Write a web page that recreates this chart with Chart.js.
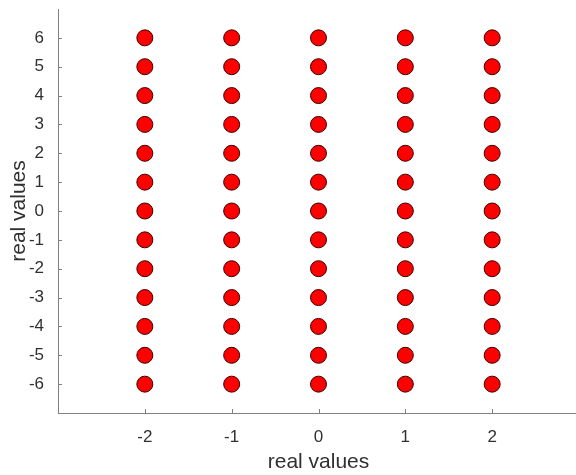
<!DOCTYPE html>
<html>
<head>
<meta charset="utf-8">
<script src="https://cdn.jsdelivr.net/npm/chart.js@4/dist/chart.umd.min.js"></script>
<style>
  html, body { margin: 0; padding: 0; background: #fff; overflow: hidden; }
  canvas { display: block; }
</style>
</head>
<body>
<canvas id="c" width="588" height="475" style="width:588px;height:475px"></canvas>
<script>
// Grid of sample positions
const xValues = [-2, -1, 0, 1, 2];
const yValues = [-6, -5, -4, -3, -2, -1, 0, 1, 2, 3, 4, 5, 6];
const xTicks = [-2, -1, 0, 1, 2];
const yTicks = [-6, -5, -4, -3, -2, -1, 0, 1, 2, 3, 4, 5, 6];
const xLimits = [-3, 3];
const yLimits = [-7, 7];
const xLabel = 'real values';
const yLabel = 'real values';

const points = [];
xValues.forEach(x => yValues.forEach(y => points.push({ x, y })));

const axisColor = '#808080';
const textColor = '#303030';
const fontFamily = 'Arial, "Liberation Sans", Helvetica, sans-serif';

// Short tick marks pointing into the plot area
const innerTicks = {
  id: 'innerTicks',
  afterDatasetsDraw(chart) {
    const { ctx, chartArea, scales } = chart;
    ctx.save();
    ctx.strokeStyle = axisColor;
    ctx.lineWidth = 1;
    ctx.beginPath();
    xTicks.forEach(v => {
      const px = Math.round(scales.x.getPixelForValue(v)) + 0.5;
      ctx.moveTo(px, chartArea.bottom);
      ctx.lineTo(px, chartArea.bottom - 4);
    });
    yTicks.forEach(v => {
      const py = Math.round(scales.y.getPixelForValue(v)) + 0.5;
      ctx.moveTo(chartArea.left, py);
      ctx.lineTo(chartArea.left + 4, py);
    });
    ctx.stroke();
    ctx.restore();
  }
};

new Chart(document.getElementById('c'), {
  type: 'scatter',
  data: {
    datasets: [{
      data: points,
      backgroundColor: '#ff0000',
      borderColor: '#3a0000',
      borderWidth: 1,
      pointRadius: 8,
      pointHoverRadius: 8
    }]
  },
  options: {
    responsive: false,
    animation: false,
    events: [],
    layout: { padding: { top: 8, right: 0, left: 0, bottom: 0 } },
    plugins: { legend: { display: false }, tooltip: { enabled: false } },
    scales: {
      x: {
        type: 'linear',
        min: xLimits[0],
        max: xLimits[1],
        afterBuildTicks: s => { s.ticks = xTicks.map(v => ({ value: v })); },
        afterFit: s => { s.height = 62; s.paddingLeft = 0; s.paddingRight = 0; },
        grid: { display: false, drawTicks: false },
        border: { display: true, color: axisColor, width: 1 },
        ticks: {
          color: textColor,
          padding: 14,
          maxRotation: 0,
          font: { family: fontFamily, size: 17 }
        },
        title: {
          display: true,
          text: xLabel,
          color: textColor,
          font: { family: fontFamily, size: 21 },
          padding: { top: 0, bottom: 0 }
        }
      },
      y: {
        type: 'linear',
        min: yLimits[0],
        max: yLimits[1],
        afterBuildTicks: s => { s.ticks = yTicks.map(v => ({ value: v })); },
        afterFit: s => { s.width = 58; s.paddingTop = 0; s.paddingBottom = 0; },
        grid: { display: false, drawTicks: false },
        border: { display: true, color: axisColor, width: 1 },
        ticks: {
          color: textColor,
          padding: 14,
          font: { family: fontFamily, size: 17 }
        },
        title: {
          display: true,
          text: yLabel,
          color: textColor,
          font: { family: fontFamily, size: 21 },
          padding: { top: 7, bottom: 0 }
        }
      }
    }
  },
  plugins: [innerTicks]
});
</script>
</body>
</html>
